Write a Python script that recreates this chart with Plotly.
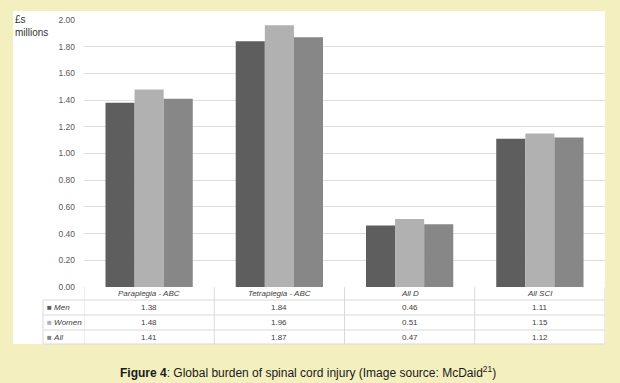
import plotly.graph_objects as go

categories = ["Paraplegia - ABC", "Tetraplegia - ABC", "All D", "All SCI"]
series_names = ["Men", "Women", "All"]
men = [1.38, 1.84, 0.46, 1.11]
women = [1.48, 1.96, 0.51, 1.15]
all_ = [1.41, 1.87, 0.47, 1.12]
value_labels = {
    "Men": ["1.38", "1.84", "0.46", "1.11"],
    "Women": ["1.48", "1.96", "0.51", "1.15"],
    "All": ["1.41", "1.87", "0.47", "1.12"],
}
colors = {"Men": "#5e5e5e", "Women": "#b1b1b1", "All": "#878787"}
y_ticks = [0, 0.2, 0.4, 0.6, 0.8, 1.0, 1.2, 1.4, 1.6, 1.8, 2.0]
y_ticktext = ["0.00", "0.20", "0.40", "0.60", "0.80", "1.00", "1.20", "1.40", "1.60", "1.80", "2.00"]

W, H = 620, 383
L, R, T, B = 84, 15, 20, 96
pw, ph = W - L - R, H - T - B


def px_x(px):
    return (px - L) / pw


def px_y(py):
    return (H - B - py) / ph


fig = go.Figure()
for name, vals in zip(series_names, [men, women, all_]):
    fig.add_trace(go.Bar(x=categories, y=vals, name=name,
                         marker=dict(color=colors[name], line=dict(width=0))))

shapes = []
annos = []
# white panel
shapes.append(dict(type="rect", xref="paper", yref="paper", x0=px_x(13), x1=px_x(605),
                   y0=px_y(344), y1=px_y(11), fillcolor="white", line=dict(width=0), layer="below"))

gc = "#d9d9d9"
row_lines = [300, 315, 330, 344]
for py in row_lines:
    shapes.append(dict(type="line", xref="paper", yref="paper", x0=px_x(43), x1=1,
                       y0=px_y(py), y1=px_y(py), line=dict(color=gc, width=1)))
n = len(categories)
for i in range(n + 1):
    xv = -0.5 + i
    shapes.append(dict(type="line", xref="x", yref="paper", x0=xv, x1=xv,
                       y0=px_y(344), y1=px_y(287), line=dict(color=gc, width=1)))
shapes.append(dict(type="line", xref="paper", yref="paper", x0=px_x(43), x1=px_x(43),
                   y0=px_y(344), y1=px_y(300), line=dict(color=gc, width=1)))

tfont = dict(family="Liberation Sans, Arial", size=8, color="#404040")
for c in categories:
    annos.append(dict(x=c, xref="x", y=px_y(293.5), yref="paper", text=f"<i>{c}</i>",
                      showarrow=False, font=tfont, xanchor="center", yanchor="middle"))
row_centers = [307.5, 322.5, 337]
for name, yc in zip(series_names, row_centers):
    annos.append(dict(x=px_x(45), xref="paper", y=px_y(yc), yref="paper",
                      text=f"<span style='color:{colors[name]}'>■</span> <i>{name}</i>",
                      showarrow=False, font=tfont, xanchor="left", yanchor="middle"))
    for c, v in zip(categories, value_labels[name]):
        annos.append(dict(x=c, xref="x", y=px_y(yc), yref="paper", text=v,
                          showarrow=False, font=tfont, xanchor="center", yanchor="middle"))

annos.append(dict(x=px_x(13), xref="paper", y=px_y(12), yref="paper", text="£s<br>millions",
                  showarrow=False, align="left", xanchor="left", yanchor="top",
                  font=dict(family="Liberation Sans, Arial", size=10, color="#333333")))
annos.append(dict(x=px_x(308), xref="paper", y=px_y(372), yref="paper",
                  text="<b>Figure 4</b>: Global burden of spinal cord injury (Image source: McDaid<sup>21</sup>)",
                  showarrow=False, xanchor="center", yanchor="middle",
                  font=dict(family="Liberation Sans, Arial", size=12, color="#1a1a1a")))

fig.update_layout(
    width=W, height=H,
    margin=dict(l=L, r=R, t=T, b=B, pad=0),
    paper_bgcolor="#f3efbe",
    plot_bgcolor="rgba(0,0,0,0)",
    barmode="group", bargap=0.33, bargroupgap=0,
    showlegend=False,
    shapes=shapes, annotations=annos,
    xaxis=dict(showticklabels=False, showgrid=False, zeroline=False, showline=False,
               range=[-0.5, n - 0.5], fixedrange=True),
    yaxis=dict(range=[0, 2.0], tickvals=y_ticks, ticktext=y_ticktext,
               showgrid=True, gridcolor="#dedede", gridwidth=1, zeroline=False,
               ticks="", ticklabelstandoff=8,
               tickfont=dict(family="Liberation Sans, Arial", size=8.5, color="#595959")),
)
fig.write_html("out.html", config={"displayModeBar": False},
               post_script="document.body.style.margin='0';document.body.style.overflow='hidden';document.body.style.background='#f3efbe';")
